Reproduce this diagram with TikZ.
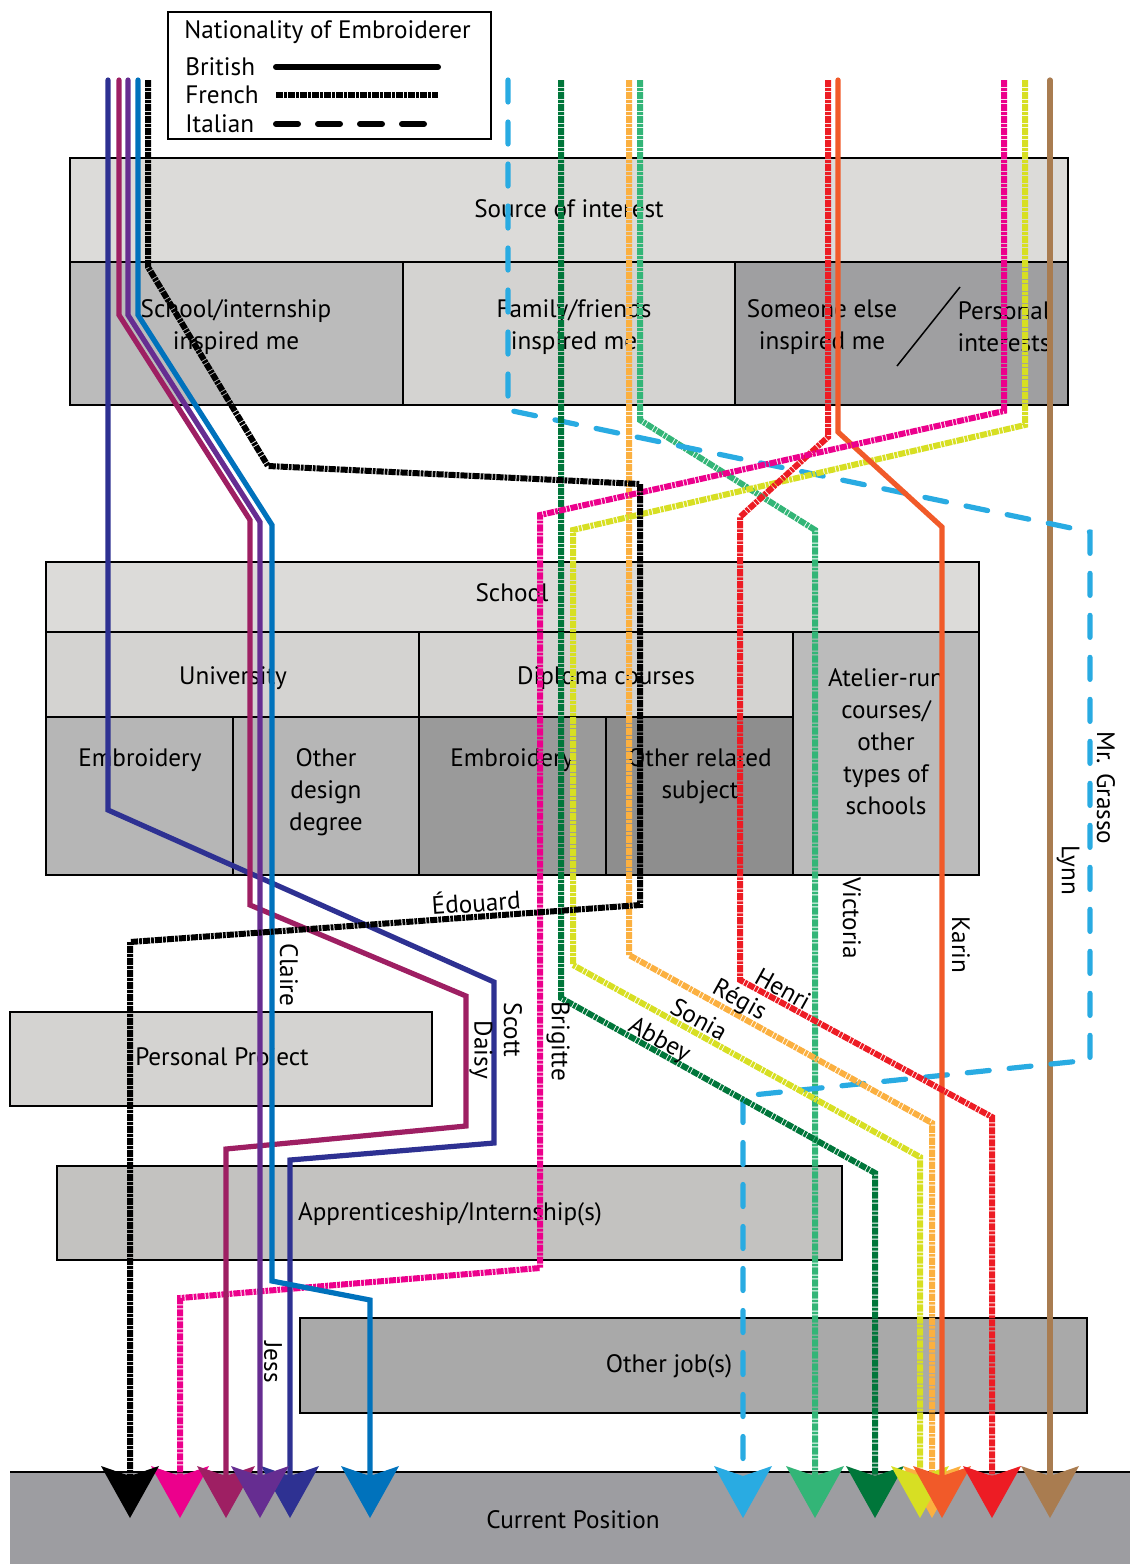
\documentclass[tikz,border=0pt]{standalone}
\usepackage{fontspec}
\setmainfont{PT Sans}
\usetikzlibrary{arrows.meta}

% box shades
\definecolor{shLight}{HTML}{DCDBD9}
\definecolor{shPale}{HTML}{D4D3D1}
\definecolor{shMid}{HTML}{BBBBBB}
\definecolor{shMidB}{HTML}{B6B6B6}
\definecolor{shDark}{HTML}{9F9FA1}
\definecolor{shDarker}{HTML}{9A9A9A}
\definecolor{shDarkest}{HTML}{8E8E8E}
\definecolor{shApp}{HTML}{C3C2C0}
\definecolor{shJob}{HTML}{A9A9A9}
\definecolor{shCur}{HTML}{9D9DA1}
% one colour per embroiderer
\definecolor{cScott}{HTML}{2E3192}
\definecolor{cDaisy}{HTML}{9E1F63}
\definecolor{cJess}{HTML}{662D91}
\definecolor{cClaire}{HTML}{0072BC}
\definecolor{cEdouard}{HTML}{000000}
\definecolor{cBrigitte}{HTML}{EC008C}
\definecolor{cSonia}{HTML}{D7DF23}
\definecolor{cRegis}{HTML}{FBB040}
\definecolor{cAbbey}{HTML}{00763A}
\definecolor{cHenri}{HTML}{ED1C24}
\definecolor{cKarin}{HTML}{F15A29}
\definecolor{cVictoria}{HTML}{33B577}
\definecolor{cGrasso}{HTML}{29ABE2}
\definecolor{cLynn}{HTML}{A97C50}

\begin{document}
\begin{tikzpicture}[x=0.5pt,y=-0.5pt,
  every node/.style={font=\fontsize{12.6}{16}\selectfont, inner sep=0pt, align=center},
  frame/.style={draw=black, line width=0.75pt},
  route/.style={line width=2.6pt, line join=miter,
    -{Stealth[length=26pt,width=29pt,inset=5pt,line width=0pt]}},
  british/.style={line cap=round},
  french/.style={line width=3pt, dash pattern=on 3.6pt off 0.5pt on 1.4pt off 0.5pt},
  italian/.style={line cap=round, dash pattern=on 11pt off 10pt},
  tag/.style={font=\fontsize{12.6}{14}\selectfont},
]
\useasboundingbox (0,0) rectangle (1130,1564);

% ---------- legend ----------
\draw[line width=0.75pt] (168,12) rectangle (491,139);
\node[anchor=west] (legTitle) at (184,32) {Nationality of Embroiderer};
\node[anchor=west] (legBr) at (185,67) {British};
\node[anchor=west] (legFr) at (185,95) {French};
\node[anchor=west] (legIt) at (185,124) {Italian};
\coordinate (lbA) at (276,67);  \coordinate (lbB) at (438,67);
\coordinate (lfA) at (276,95);  \coordinate (lfB) at (438,95);
\coordinate (liA) at (276,124); \coordinate (liB) at (432,124);
\draw[line width=3pt, line cap=round] (lbA) -- (lbB);
\draw[french, line width=3.2pt] (lfA) -- (lfB);
\draw[line width=3pt, line cap=round, dash pattern=on 11pt off 10pt] (liA) -- (liB);

% ---------- source of interest ----------
\path[frame, fill=shLight] (70,158) rectangle (1068,262);
\path[frame, fill=shMid] (70,262) rectangle (403,405);
\path[frame, fill=shPale] (403,262) rectangle (735,405);
\path[frame, fill=shDark] (735,262) rectangle (1068,405);
\draw[line width=0.75pt] (897,366) -- (960,287);
\node (soi) at (569,209) {Source of interest};
\node (soiSchool) at (236,327) {School/internship\\inspired me};
\node (soiFam) at (574,327) {Family/friends\\inspired me};
\node (soiElse) at (822,327) {Someone else\\inspired me};
\node (soiPers) at (1004,327) {Personal\\interests};

% ---------- school ----------
\path[frame, fill=shLight] (46,562) rectangle (979,632);
\path[frame, fill=shPale] (46,632) rectangle (419,717);
\path[frame, fill=shPale] (419,632) rectangle (793,717);
\path[frame, fill=shMid] (793,632) rectangle (979,875);
\path[frame, fill=shMidB] (46,717) rectangle (233,875);
\path[frame, fill=shMidB] (233,717) rectangle (419,875);
\path[frame, fill=shDarker] (419,717) rectangle (606,875);
\path[frame, fill=shDarkest] (606,717) rectangle (793,875);
\node (sch) at (512,593) {School};
\node (uni) at (233,678) {University};
\node (dip) at (606,678) {Diploma courses};
\node (atel) at (886,742) {Atelier-run\\courses/\\other\\types of\\schools};
\node (uniEmb) at (140,760) {Embroidery};
\node (uniOther) at (326,792) {Other\\design\\degree};
\node (dipEmb) at (512,760) {Embroidery};
\node (dipOther) at (700,776) {Other related\\subject};

% ---------- later steps ----------
\path[frame, fill=shPale] (10,1012) rectangle (432,1106);
\node (pp) at (222,1059) {Personal Project};
\path[frame, fill=shApp] (57,1166) rectangle (842,1260);
\node (app) at (450,1214) {Apprenticeship/Internship(s)};
\path[frame, fill=shJob] (300,1318) rectangle (1087,1413);
\node (job) at (669,1366) {Other job(s)};
\fill[shCur] (10,1472) rectangle (1130,1564);
\draw[line width=0.75pt] (10,1472) -- (1130,1472);
\node (cur) at (573,1520) {Current Position};

% ---------- start and end points of each route ----------
\foreach \who/\sx/\ex in {Scott/108/290, Daisy/119/226, Jess/128/260, Claire/138/370,
  Edouard/148/130, Brigitte/1004/180, Sonia/1025/920, Regis/629/932, Abbey/561/875,
  Henri/828/992, Karin/838/942, Victoria/640/815, Grasso/508/743, Lynn/1050/1050}{
  \coordinate (s\who) at (\sx,80);
  \coordinate (e\who) at (\ex,1518);
}

% ---------- routes ----------
\draw[route, french, cVictoria] (sVictoria) -- (640,420) -- (815,530) -- (eVictoria);
\draw[route, british, cLynn] (sLynn) -- (eLynn);
\draw[route, italian, cGrasso] (sGrasso) -- (508,410) -- (1090,532) -- (1090,1060) -- (743,1096) -- (eGrasso);
\draw[route, french, cAbbey] (sAbbey) -- (561,998) -- (875,1173) -- (eAbbey);
\draw[route, french, cRegis] (sRegis) -- (629,955) -- (932,1123) -- (eRegis);
\draw[route, french, cSonia] (sSonia) -- (1025,425) -- (573,530) -- (573,965) -- (920,1157) -- (eSonia);
\draw[route, british, cKarin] (sKarin) -- (838,432) -- (942,527) -- (eKarin);
\draw[route, french, cHenri] (sHenri) -- (828,437) -- (740,517) -- (740,980) -- (992,1117) -- (eHenri);
\draw[route, french, cBrigitte] (sBrigitte) -- (1004,411) -- (540,515) -- (540,1268) -- (180,1298) -- (eBrigitte);
\draw[route, british, cScott] (sScott) -- (108,810) -- (494,982) -- (494,1143) -- (290,1160) -- (eScott);
\draw[route, british, cDaisy] (sDaisy) -- (119,315) -- (250,520) -- (250,905) -- (466,996) -- (466,1126) -- (226,1149) -- (eDaisy);
\draw[route, british, cJess] (sJess) -- (128,315) -- (260,522) -- (eJess);
\draw[route, british, cClaire] (sClaire) -- (138,315) -- (272,525) -- (272,1281) -- (370,1300) -- (eClaire);
\draw[route, french, cEdouard] (sEdouard) -- (148,267) -- (268,466) -- (640,484) -- (640,905) -- (130,942) -- (eEdouard);

% ---------- names along the routes ----------
\node[tag, rotate=4] (nEdouard) at (476,901) {Édouard};
\node[tag, rotate=-90] (nClaire) at (289,975) {Claire};
\node[tag, rotate=-90] (nJess) at (273,1362) {Jess};
\node[tag, rotate=-90] (nDaisy) at (481,1050) {Daisy};
\node[tag, rotate=-90] (nScott) at (513,1030) {Scott};
\node[tag, rotate=-90] (nBrigitte) at (558,1041) {Brigitte};
\node[tag, rotate=-90] (nVictoria) at (852,918) {Victoria};
\node[tag, rotate=-90] (nKarin) at (961,945) {Karin};
\node[tag, rotate=-90] (nGrasso) at (1106,788) {Mr. Grasso};
\node[tag, rotate=-90] (nLynn) at (1068,870) {Lynn};
\node[tag, rotate=-29] (nAbbey) at (659,1041) {Abbey};
\node[tag, rotate=-29] (nSonia) at (699,1019) {Sonia};
\node[tag, rotate=-29] (nRegis) at (739,1001) {Régis};
\node[tag, rotate=-29] (nHenri) at (783,989) {Henri};
\end{tikzpicture}
\end{document}
